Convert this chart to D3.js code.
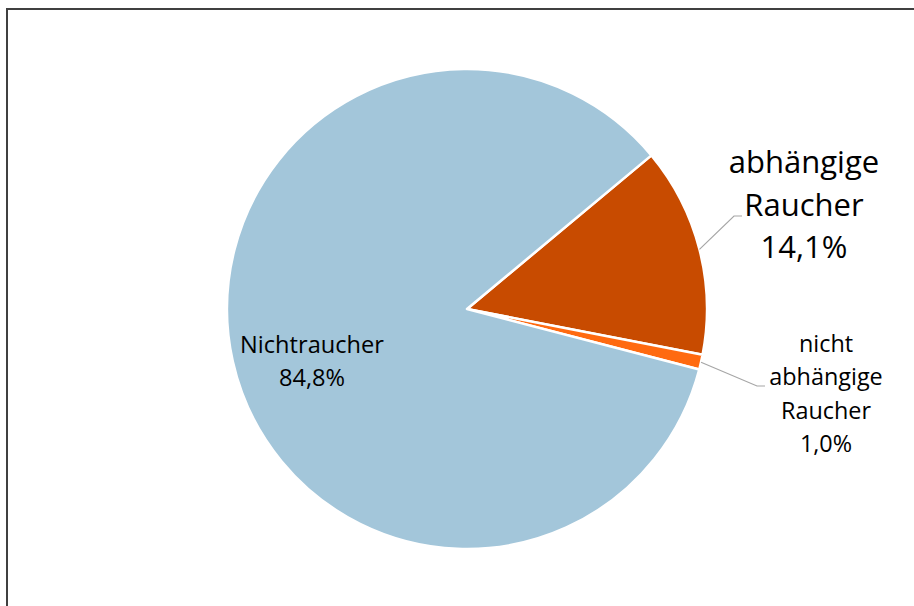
<!DOCTYPE html>
<html>
<head>
<meta charset="utf-8">
<script src="https://cdn.jsdelivr.net/npm/d3@7"></script>
<style>
  body { margin: 0; background: #fff; }
  svg { display: block; }
  text { font-family: "Open Sans", "Liberation Sans", sans-serif; fill: #000; }
</style>
</head>
<body>
<svg id="chart" width="914" height="606"></svg>
<script>
// slice data, in drawing order (clockwise from the first slice)
const categories = ["abhängige Raucher", "nicht abhängige Raucher", "Nichtraucher"];
const values = [14.1, 1.0, 84.8];
const colors = ["#C84B00", "#FF6A10", "#A3C6DA"];
// label lines, one array per slice
const labelLines = [
    ["abhängige", "Raucher", "14,1%"],
    ["nicht", "abhängige", "Raucher", "1,0%"],
    ["Nichtraucher", "84,8%"]
];

const w = 914, h = 606;
const cx = 467, cy = 309, r = 240;

let svg = d3.select("#chart");

// chart frame (runs off the right and bottom edge)
svg.append("rect")
    .attr("x", 7).attr("y", 9)
    .attr("width", 930).attr("height", 620)
    .attr("fill", "none")
    .attr("stroke", "#404040")
    .attr("stroke-width", 2);

// first slice starts a bit past 12 o'clock
let pie = d3.pie()
    .sort(null)
    .startAngle(50.2 * Math.PI / 180)
    .endAngle(50.2 * Math.PI / 180 + 2 * Math.PI);

let arc = d3.arc().innerRadius(0).outerRadius(r);

let arcs = pie(values);

let g = svg.append("g").attr("transform", `translate(${cx},${cy})`);

g.selectAll("path")
    .data(arcs)
    .enter()
    .append("path")
    .attr("d", arc)
    .attr("fill", (d, i) => colors[i])
    .attr("stroke", "#fff")
    .attr("stroke-width", 2.5)
    .attr("stroke-linejoin", "round");

// label placement: anchor x, first baseline, line height, font size
const labelPos = [
    { x: 804, y: 173, lh: 42.5, size: 31 },
    { x: 826, y: 352, lh: 33.3, size: 23.4 },
    { x: 312, y: 353, lh: 33, size: 23.6 }
];

labelPos.forEach(function (p, i) {
    let t = svg.append("text")
        .attr("text-anchor", "middle")
        .style("font-size", p.size + "px");
    labelLines[i].forEach(function (line, j) {
        t.append("tspan")
            .attr("x", p.x)
            .attr("y", p.y + j * p.lh)
            .text(line);
    });
});

// leader lines from the middle of the slice's arc to the label
function leader(d, ex, ey, hx) {
    let mid = (d.startAngle + d.endAngle) / 2;
    let sx = cx + Math.sin(mid) * r;
    let sy = cy - Math.cos(mid) * r;
    svg.append("polyline")
        .attr("points", [[sx, sy], [ex, ey], [hx, ey]].map(p => p.join(",")).join(" "))
        .attr("fill", "none")
        .attr("stroke", "#A6A6A6")
        .attr("stroke-width", 1.2);
}

leader(arcs[0], 734, 216, 742);
leader(arcs[1], 757, 386, 765);
</script>
</body>
</html>
